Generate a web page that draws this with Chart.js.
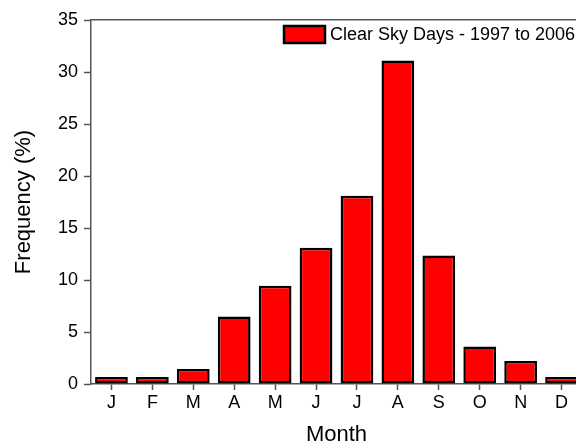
<!DOCTYPE html>
<html>
<head>
<meta charset="utf-8">
<script src="https://cdn.jsdelivr.net/npm/chart.js@4/dist/chart.umd.min.js"></script>
<style>
  html, body { margin: 0; padding: 0; background: #fff; overflow: hidden; }
  #wrap { width: 584px; height: 448px; }
</style>
</head>
<body>
<div id="wrap"><canvas id="chart" width="584" height="448"></canvas></div>
<script>
// monthly frequency of clear sky days, 1997-2006
var months = ['J', 'F', 'M', 'A', 'M', 'J', 'J', 'A', 'S', 'O', 'N', 'D'];
var clearSky = [0.67, 0.67, 1.44, 6.5, 9.45, 13.1, 18.1, 31.1, 12.35, 3.6, 2.2, 0.67];
var seriesName = 'Clear Sky Days - 1997 to 2006';
var yTicks = [0, 5, 10, 15, 20, 25, 30, 35];

var axisColor = '#555555';
var fontFamily = '"Liberation Sans", Arial, sans-serif';

Chart.defaults.font.family = fontFamily;
Chart.defaults.color = '#000';

// legend drawn inside the plot, top right, like the original
const insideLegend = {
    id: 'insideLegend',
    afterDraw: function (chart) {
        var c = chart.ctx;
        var area = chart.chartArea;
        var ds = chart.data.datasets[0];
        var bx = area.right - 298, by = area.top + 6;
        c.save();
        c.fillStyle = ds.backgroundColor;
        c.strokeStyle = ds.borderColor;
        c.lineWidth = 2.5;
        c.fillRect(bx, by, 41, 17);
        c.strokeRect(bx, by, 41, 17);
        c.fillStyle = '#000';
        c.font = '18px ' + fontFamily;
        c.textBaseline = 'middle';
        c.fillText(ds.label, bx + 46, by + 9);
        c.restore();
    }
};

const ctx = document.getElementById('chart').getContext('2d');
const myChart = new Chart(ctx, {
    type: 'bar',
    data: {
        labels: months,
        datasets: [{
            label: seriesName,
            data: clearSky,
            backgroundColor: '#ff0000',
            borderColor: '#000000',
            borderWidth: 2.5,
            borderSkipped: false,
            barPercentage: 0.8,
            categoryPercentage: 1.0
        }]
    },
    plugins: [insideLegend],
    options: {
        responsive: false,
        animation: false,
        layout: { padding: { left: 0, right: 2, top: 0, bottom: 0 } },
        plugins: {
            tooltip: { enabled: false },
            legend: { display: false }
        },
        scales: {
            x: {
                position: 'bottom',
                offset: true,
                grid: { display: true, drawOnChartArea: false, offset: false, tickLength: 6, color: axisColor, tickWidth: 1.5 },
                border: { display: true, color: axisColor, width: 1.5 },
                ticks: { padding: 2, color: '#000', font: { size: 18 }, maxRotation: 0 },
                title: { display: true, text: 'Month', color: '#000', font: { size: 22 }, padding: { top: 6, bottom: 0 } },
                afterFit: function (scale) { scale.height = 64; }
            },
            x2: {
                position: 'top',
                display: true,
                grid: { display: false },
                border: { display: true, color: axisColor, width: 1.5 },
                ticks: { display: false },
                afterFit: function (scale) { scale.height = 20; }
            },
            y: {
                min: 0,
                max: 35,
                afterBuildTicks: function (scale) {
                    scale.ticks = yTicks.map(function (v) { return { value: v }; });
                },
                grid: { display: true, drawOnChartArea: false, tickLength: 7, color: axisColor, tickWidth: 1.5 },
                border: { display: true, color: axisColor, width: 1.5 },
                ticks: { padding: 6, color: '#000', font: { size: 18 } },
                title: { display: true, text: 'Frequency (%)', color: '#000', font: { size: 22 }, padding: { top: 11, bottom: 6 } },
                afterFit: function (scale) { scale.width = 91; }
            }
        }
    }
});
</script>
</body>
</html>
